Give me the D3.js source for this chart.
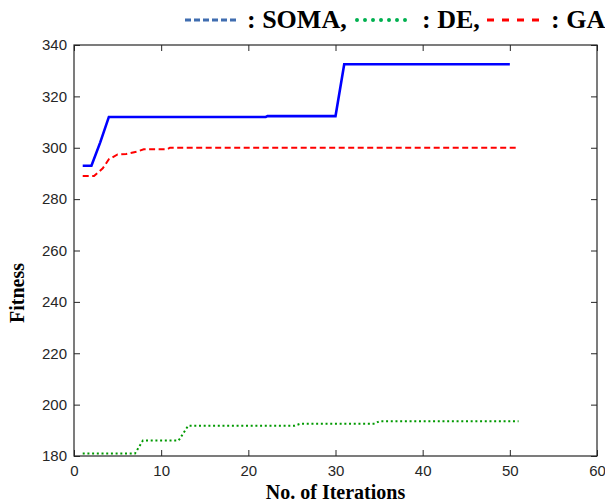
<!DOCTYPE html>
<html>
<head>
<meta charset="utf-8">
<script src="https://cdn.jsdelivr.net/npm/d3@7"></script>
<style>
  body { margin: 0; background: #fff; }
  .tick text { font-family: 'Liberation Sans', Arial, sans-serif; font-size: 15px; fill: #262626; }
  .axis-title { font-family: 'Liberation Serif', 'Times New Roman', serif; font-weight: bold; font-size: 20px; fill: #000; }
  .legend-text { font-family: 'Liberation Serif', 'Times New Roman', serif; font-weight: bold; font-size: 26px; fill: #000; }
</style>
</head>
<body>
<div id="chart"></div>
<script>
// iteration / fitness pairs
const somaIter = [1, 2, 3, 4, 22, 22.2, 30, 31, 50];
const somaFit = [293, 293, 302, 312, 312, 312.3, 312.3, 332.5, 332.5];

const deIter = [1, 7, 7.9, 12, 13.1, 25.3, 26, 34.5, 35, 51];
const deFit = [181, 181, 186, 186, 191.8, 191.8, 192.6, 192.6, 193.5, 193.5];

const gaIter = [1, 2.3, 3.3, 4, 5, 6, 7.2, 8, 10.7, 11, 51];
const gaFit = [289, 289, 292, 295.5, 297.4, 297.6, 298.5, 299.4, 299.4, 300, 300];

const xTicks = [0, 10, 20, 30, 40, 50, 60];
const yTicks = [180, 200, 220, 240, 260, 280, 300, 320, 340];

const width = 605;
const height = 504;
const margin = { top: 45, right: 8, bottom: 48, left: 74 };

const svg = d3
  .select('#chart')
  .append('svg')
  .attr('width', width)
  .attr('height', height);

/* Scale */
const xScale = d3.scaleLinear().domain([0, 60]).range([margin.left, width - margin.right]);
const yScale = d3.scaleLinear().domain([180, 340]).range([height - margin.bottom, margin.top]);

/* Axes (ticks on all four sides, pointing inward) */
const axisColor = '#262626';
const tickLen = 6;

function styleAxis(g) {
  g.select('.domain').remove();
  g.selectAll('.tick line').attr('stroke', axisColor);
}

svg.append('g')
  .attr('transform', `translate(0, ${yScale(180)})`)
  .call(d3.axisBottom(xScale).tickValues(xTicks).tickSizeInner(-tickLen).tickSizeOuter(0).tickPadding(9))
  .call(styleAxis);

svg.append('g')
  .attr('transform', `translate(0, ${yScale(340)})`)
  .call(d3.axisTop(xScale).tickValues(xTicks).tickSizeInner(-tickLen).tickSizeOuter(0).tickFormat(''))
  .call(styleAxis);

svg.append('g')
  .attr('transform', `translate(${xScale(0)}, 0)`)
  .call(d3.axisLeft(yScale).tickValues(yTicks).tickSizeInner(-tickLen).tickSizeOuter(0).tickPadding(7))
  .call(styleAxis);

svg.append('g')
  .attr('transform', `translate(${xScale(60)}, 0)`)
  .call(d3.axisRight(yScale).tickValues(yTicks).tickSizeInner(-tickLen).tickSizeOuter(0).tickFormat(''))
  .call(styleAxis);

// box
svg.append('rect')
  .attr('x', xScale(0))
  .attr('y', yScale(340))
  .attr('width', xScale(60) - xScale(0))
  .attr('height', yScale(180) - yScale(340))
  .attr('fill', 'none')
  .attr('stroke', axisColor)
  .attr('stroke-width', 1.2);

/* Lines */
const line = d3.line()
  .x(d => xScale(d[0]))
  .y(d => yScale(d[1]));

const series = [
  { name: 'SOMA', x: somaIter, y: somaFit, color: '#0000ff', width: 2.6, dash: null },
  { name: 'GA', x: gaIter, y: gaFit, color: '#ff0000', width: 2, dash: '6,3.5' },
  { name: 'DE', x: deIter, y: deFit, color: '#009900', width: 2, dash: '2,2.7' }
];

series.forEach(s => {
  svg.append('path')
    .datum(s.x.map((v, i) => [v, s.y[i]]))
    .attr('d', line)
    .attr('fill', 'none')
    .attr('stroke', s.color)
    .attr('stroke-width', s.width)
    .attr('stroke-dasharray', s.dash);
});

/* Axis titles */
svg.append('text')
  .attr('class', 'axis-title')
  .attr('x', (xScale(0) + xScale(60)) / 2)
  .attr('y', 499)
  .attr('text-anchor', 'middle')
  .text('No. of Iterations');

svg.append('text')
  .attr('class', 'axis-title')
  .attr('transform', `translate(24, ${293}) rotate(-90)`)
  .attr('text-anchor', 'middle')
  .text('Fitness');

/* Legend */
const legendItems = [
  { label: ': SOMA,', color: '#3f6db0', x0: 185, x1: 237, dash: '6,3', width: 3, cap: 'butt' },
  { label: ': DE,', color: '#00b050', x0: 357, x1: 412, dash: '0,8', width: 4, cap: 'round' },
  { label: ': GA', color: '#ff0000', x0: 487, x1: 541, dash: '7,8', width: 3, cap: 'butt' }
];

const legend = svg.append('g').attr('class', 'legend');
legendItems.forEach(d => {
  legend.append('line')
    .attr('x1', d.x0)
    .attr('x2', d.x1)
    .attr('y1', 20)
    .attr('y2', 20)
    .attr('stroke', d.color)
    .attr('stroke-width', d.width)
    .attr('stroke-linecap', d.cap)
    .attr('stroke-dasharray', d.dash);
  legend.append('text')
    .attr('class', 'legend-text')
    .attr('x', d.x1 + 10)
    .attr('y', 28)
    .text(d.label);
});
</script>
</body>
</html>
